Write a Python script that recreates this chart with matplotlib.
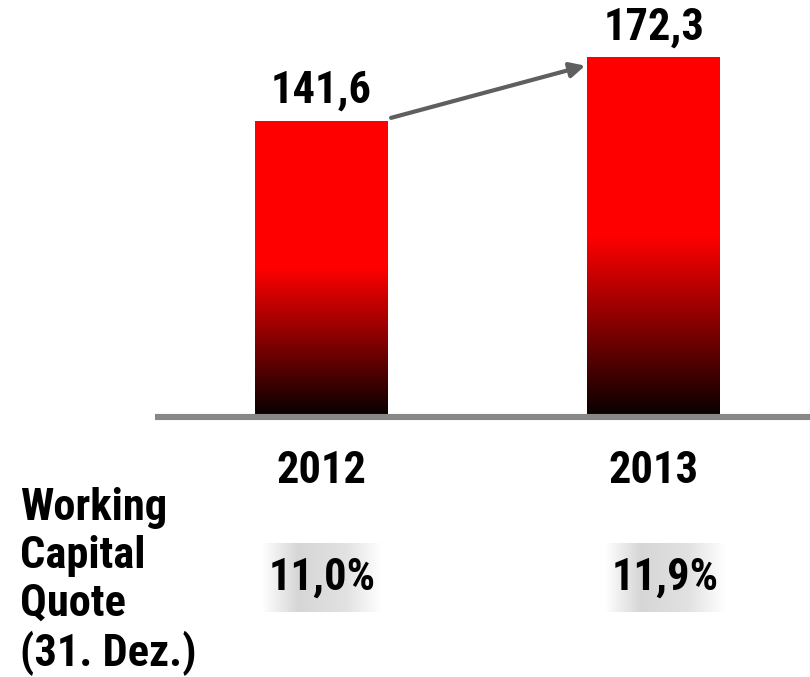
#!/usr/bin/env python3
"""Working capital 2012 vs 2013 — gradient bars with growth arrow."""
import numpy as np
import matplotlib
matplotlib.use("Agg")
import matplotlib.pyplot as plt
from matplotlib.colors import LinearSegmentedColormap
from matplotlib.transforms import blended_transform_factory

# ── Data ─────────────────────────────────────────────────────────────────────
YEARS = ["2012", "2013"]
VALUES = [141.6, 172.3]
VALUE_LABELS = ["141,6", "172,3"]
QUOTES = ["11,0%", "11,9%"]
ROW_LABEL = "Working\nCapital\nQuote\n(31. Dez.)"

# ── Style ────────────────────────────────────────────────────────────────────
W, H = 810, 677
FONT = ["Roboto Condensed", "DejaVu Sans"]
FS = 32
BAR_W = 0.4
RED_BLACK = LinearSegmentedColormap.from_list(
    "rb", [(0.0, "#0a0000"), (0.5, "#ff0000"), (1.0, "#ff0000")])
SILVER = LinearSegmentedColormap.from_list(
    "silver", [(0.0, "#ffffff"), (0.3, "#d6d6d6"), (0.7, "#e2e2e2"), (1.0, "#ffffff")])

plt.rcParams["font.family"] = FONT

fig = plt.figure(figsize=(W / 100, H / 100), dpi=100)
# axes: left edge at the baseline start, top at figure top
ax = fig.add_axes([155 / W, 1 - 435 / H, 1 - 155 / W, 435 / H])
ax.set_xlim(-0.5, 1.47)
ax.set_ylim(-10, 200)
ax.axis("off")

x = np.arange(len(VALUES))
bars = ax.bar(x, VALUES, width=BAR_W, color="none", edgecolor="none")

grad = np.linspace(0, 1, 256).reshape(-1, 1)
for bar in bars:
    x0, y0 = bar.get_x(), bar.get_y()
    w, h = bar.get_width(), bar.get_height()
    im = ax.imshow(grad, cmap=RED_BLACK, origin="lower", aspect="auto",
                   extent=[x0, x0 + w, y0, y0 + h], interpolation="bicubic")
    im.set_clip_path(bar)

# baseline
ax.axhline(-1.45, color="#878787", lw=4.4, zorder=3)

# value labels
for xi, v, lab in zip(x, VALUES, VALUE_LABELS):
    ax.annotate(lab, (xi, v), xytext=(0, 13), textcoords="offset points",
                ha="center", va="baseline", fontsize=FS, fontweight="bold")

# growth arrow
ax.annotate("", xy=(x[1] - BAR_W / 2 - 0.006, VALUES[1] - 4),
            xytext=(x[0] + BAR_W / 2 + 0.01, VALUES[0] + 1.5),
            arrowprops=dict(arrowstyle="-|>,head_length=0.9,head_width=0.45",
                            color="#5f5f5f", lw=3, shrinkA=0, shrinkB=0))

# year labels and quote row (x in data, y in figure fraction)
tr = blended_transform_factory(ax.transData, fig.transFigure)
for xi, yr in zip(x, YEARS):
    ax.text(xi, 1 - 471 / H, yr, transform=tr, ha="center", va="center",
            fontsize=FS, fontweight="bold")

quote_dx = [0.003, 0.033]
for xi, dx, q in zip(x, quote_dx, QUOTES):
    cx = xi + dx
    ax.imshow(np.linspace(0, 1, 256).reshape(1, -1), cmap=SILVER,
              aspect="auto", transform=tr, clip_on=False, zorder=1,
              extent=[cx - 0.18, cx + 0.18, 1 - 612 / H, 1 - 543 / H])
    ax.text(cx, 1 - 578 / H, q, transform=tr, ha="center", va="center",
            fontsize=FS, fontweight="bold", zorder=2)

fig.text(20 / W, 1 - 487 / H, ROW_LABEL, ha="left", va="top",
         fontsize=FS, fontweight="bold", linespacing=1.18)

fig.savefig("out.png", dpi=100)
